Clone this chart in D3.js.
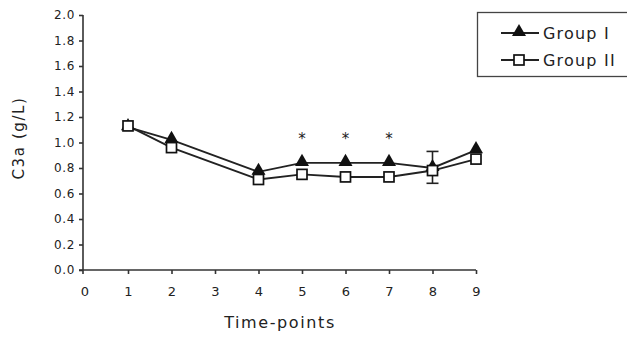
<!DOCTYPE html>
<html>
<head>
<meta charset="utf-8">
<script src="https://cdn.jsdelivr.net/npm/d3@7"></script>
<style>
body { margin: 0; background: white; }
svg { display: block; }
text { font-family: "DejaVu Sans", sans-serif; fill: #222; }
</style>
</head>
<body>
<svg id="chart" width="627" height="337"></svg>
<script>
var timePoints = [1, 2, 4, 5, 6, 7, 8, 9]
var group1 = [1.12, 1.02, 0.77, 0.84, 0.84, 0.84, 0.80, 0.94]
var group2 = [1.13, 0.96, 0.71, 0.75, 0.73, 0.73, 0.78, 0.87]
var errHigh = [0, 0, 0, 0, 0, 0, 0.93, 0]
var errLow = [0, 0, 0, 0, 0, 0, 0.68, 0]
var starPoints = [5, 6, 7]
var starLevel = 1.045
var xTicks = [0, 1, 2, 3, 4, 5, 6, 7, 8, 9]
var yTicks = [0, 0.2, 0.4, 0.6, 0.8, 1.0, 1.2, 1.4, 1.6, 1.8, 2.0]
var groupNames = ['Group I', 'Group II']

var svg = d3.select('#chart')
var x = d3.scaleLinear().domain([0, 9]).range([84.5, 476])
var y = d3.scaleLinear().domain([0, 2]).range([270, 15])

// y axis
var yAxis = svg.append('g')
	.attr('transform', 'translate(83,0)')
	.call(d3.axisLeft(y).tickValues(yTicks).tickFormat(d3.format('.1f')).tickSize(4).tickPadding(4))
yAxis.select('.domain').attr('d', 'M0,' + y(2) + 'V' + (y(0) + 4)).attr('stroke', '#333').attr('stroke-width', 1.6)
yAxis.selectAll('.tick line').attr('stroke', '#333').attr('stroke-width', 1.6)
yAxis.selectAll('.tick text')
	.style('font-family', '"DejaVu Sans", sans-serif')
	.style('font-size', '12px')
	.style('letter-spacing', '0.6px')
	.attr('fill', '#222')

// x axis
var xAxis = svg.append('g')
	.attr('transform', 'translate(0,270)')
	.call(d3.axisBottom(x).tickValues(xTicks).tickFormat(d3.format('d')).tickSize(4).tickPadding(13))
xAxis.select('.domain').attr('d', 'M79,0H' + x(9)).attr('stroke', '#333').attr('stroke-width', 1.6)
xAxis.selectAll('.tick line').attr('stroke', '#333').attr('stroke-width', 1.6)
	.style('opacity', function(d) { return d === 0 ? 0 : 1 })
xAxis.selectAll('.tick text')
	.style('font-family', '"DejaVu Sans", sans-serif')
	.style('font-size', '13px')
	.attr('fill', '#222')

// axis titles
svg.append('text')
	.attr('x', 280)
	.attr('y', 328)
	.attr('text-anchor', 'middle')
	.style('font-size', '16px')
	.style('letter-spacing', '1.6px')
	.text('Time-points')
svg.append('text')
	.attr('transform', 'translate(24,138) rotate(-90)')
	.attr('text-anchor', 'middle')
	.style('font-size', '15px')
	.style('letter-spacing', '1.6px')
	.text('C3a (g/L)')

var line = d3.line()
	.x(function(d, i) { return x(timePoints[i]) })
	.y(function(d) { return y(d) })

// error bars
var errs = timePoints.map(function(t, i) { return {t: t, hi: errHigh[i], lo: errLow[i]} })
	.filter(function(d) { return d.hi > 0 })
var eb = svg.append('g').attr('stroke', '#222').attr('stroke-width', 1.6)
errs.forEach(function(d) {
	eb.append('line').attr('x1', x(d.t)).attr('x2', x(d.t)).attr('y1', y(d.hi)).attr('y2', y(d.lo))
	eb.append('line').attr('x1', x(d.t) - 6).attr('x2', x(d.t) + 6).attr('y1', y(d.hi)).attr('y2', y(d.hi))
	eb.append('line').attr('x1', x(d.t) - 6).attr('x2', x(d.t) + 6).attr('y1', y(d.lo)).attr('y2', y(d.lo))
})

svg.append('path').datum(group1).attr('d', line)
	.attr('fill', 'none').attr('stroke', '#222').attr('stroke-width', 1.9)
svg.append('path').datum(group2).attr('d', line)
	.attr('fill', 'none').attr('stroke', '#222').attr('stroke-width', 1.9)

var tri = d3.symbol().type(d3.symbolTriangle).size(85)
svg.append('g').selectAll('path')
	.data(group1)
	.enter()
	.append('path')
	.attr('d', tri)
	.attr('transform', function(d, i) { return 'translate(' + x(timePoints[i]) + ',' + (y(d) - 1) + ')' })
	.attr('fill', '#111')

svg.append('g').selectAll('rect')
	.data(group2)
	.enter()
	.append('rect')
	.attr('x', function(d, i) { return x(timePoints[i]) - 5 })
	.attr('y', function(d) { return y(d) - 5 })
	.attr('width', 10)
	.attr('height', 10)
	.attr('fill', 'white')
	.attr('stroke', '#111')
	.attr('stroke-width', 1.7)

svg.append('g').selectAll('text')
	.data(starPoints)
	.enter()
	.append('text')
	.attr('x', function(d) { return x(d) })
	.attr('y', y(starLevel) + 7)
	.attr('text-anchor', 'middle')
	.style('font-size', '15px')
	.text('*')

// legend
var legend = svg.append('g')
legend.append('rect')
	.attr('x', 477.5)
	.attr('y', 12.5)
	.attr('width', 160)
	.attr('height', 64)
	.attr('fill', 'none')
	.attr('stroke', '#444')
	.attr('stroke-width', 1.3)
var rows = legend.selectAll('g.row')
	.data(groupNames)
	.enter()
	.append('g')
	.attr('class', 'row')
	.attr('transform', function(d, i) { return 'translate(0,' + (33 + i * 27) + ')' })
rows.append('line')
	.attr('x1', 501).attr('x2', 539)
	.attr('stroke', '#222').attr('stroke-width', 1.9)
rows.each(function(d, i) {
	var g = d3.select(this)
	if (i === 0) {
		g.append('path').attr('d', tri).attr('transform', 'translate(519,-1)').attr('fill', '#111')
	} else {
		g.append('rect').attr('x', 514).attr('y', -5).attr('width', 10).attr('height', 10)
			.attr('fill', 'white').attr('stroke', '#111').attr('stroke-width', 1.7)
	}
})
rows.append('text')
	.attr('x', 543)
	.attr('y', 6)
	.style('font-size', '16px')
	.style('letter-spacing', '1.2px')
	.text(function(d) { return d })
</script>
</body>
</html>
